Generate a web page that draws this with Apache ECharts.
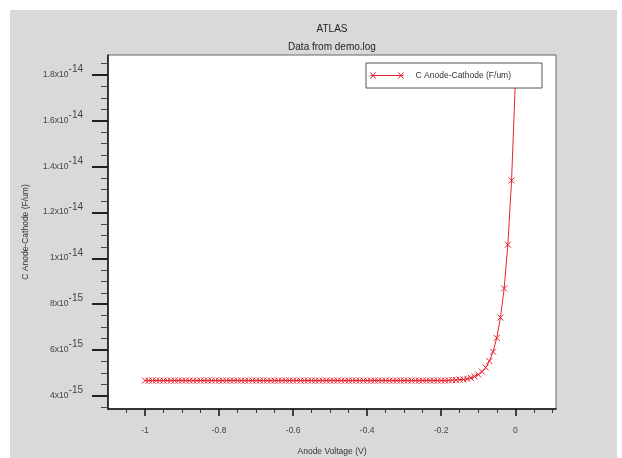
<!DOCTYPE html>
<html>
<head>
<meta charset="utf-8">
<title>ATLAS - Data from demo.log</title>
<script src="https://cdn.jsdelivr.net/npm/echarts@6.0.0/dist/echarts.min.js"></script>
<style>
html, body { margin: 0; padding: 0; background: #fff; }
#wrap { width: 622px; height: 458px; position: relative; overflow: hidden; }
#main { position: absolute; left: 10px; top: 10px; width: 607px; height: 448px; }
</style>
</head>
<body>
<div id="wrap"><div id="main"></div></div>
<script>
// anode voltage (V)
var voltage = [
  -1.00, -0.99, -0.98, -0.97, -0.96, -0.95, -0.94, -0.93, -0.92, -0.91,
  -0.90, -0.89, -0.88, -0.87, -0.86, -0.85, -0.84, -0.83, -0.82, -0.81,
  -0.80, -0.79, -0.78, -0.77, -0.76, -0.75, -0.74, -0.73, -0.72, -0.71,
  -0.70, -0.69, -0.68, -0.67, -0.66, -0.65, -0.64, -0.63, -0.62, -0.61,
  -0.60, -0.59, -0.58, -0.57, -0.56, -0.55, -0.54, -0.53, -0.52, -0.51,
  -0.50, -0.49, -0.48, -0.47, -0.46, -0.45, -0.44, -0.43, -0.42, -0.41,
  -0.40, -0.39, -0.38, -0.37, -0.36, -0.35, -0.34, -0.33, -0.32, -0.31,
  -0.30, -0.29, -0.28, -0.27, -0.26, -0.25, -0.24, -0.23, -0.22, -0.21,
  -0.20, -0.19, -0.18, -0.17, -0.16, -0.15, -0.14, -0.13, -0.12, -0.11,
  -0.10, -0.09, -0.08, -0.07, -0.06, -0.05, -0.04, -0.03, -0.02, -0.01,
  0.00
];
// C Anode-Cathode, in units of 1e-15 F/um
var capacitance = [
  4.67, 4.67, 4.67, 4.67, 4.67, 4.67, 4.67, 4.67, 4.67, 4.67,
  4.67, 4.67, 4.67, 4.67, 4.67, 4.67, 4.67, 4.67, 4.67, 4.67,
  4.67, 4.67, 4.67, 4.67, 4.67, 4.67, 4.67, 4.67, 4.67, 4.67,
  4.67, 4.67, 4.67, 4.67, 4.67, 4.67, 4.67, 4.67, 4.67, 4.67,
  4.67, 4.67, 4.67, 4.67, 4.67, 4.67, 4.67, 4.67, 4.67, 4.67,
  4.67, 4.67, 4.67, 4.67, 4.67, 4.67, 4.67, 4.67, 4.67, 4.67,
  4.67, 4.67, 4.67, 4.67, 4.67, 4.67, 4.67, 4.67, 4.67, 4.67,
  4.67, 4.67, 4.67, 4.67, 4.67, 4.67, 4.67, 4.67, 4.67, 4.67,
  4.67, 4.67, 4.68, 4.69, 4.69, 4.71, 4.72, 4.75, 4.79, 4.85,
  4.93, 5.06, 5.24, 5.52, 5.93, 6.53, 7.42, 8.69, 10.6, 13.4,
  17.6
];
var xMajorTicks = [-1, -0.8, -0.6, -0.4, -0.2, 0];
var xMinorTicks = [-1.05, -0.95, -0.9, -0.85, -0.75, -0.7, -0.65, -0.55, -0.5, -0.45,
  -0.35, -0.3, -0.25, -0.15, -0.1, -0.05, 0.05, 0.1];
var yMajorTicks = [4, 6, 8, 10, 12, 14, 16, 18];
var yMinorTicks = [3.5, 4.5, 5, 5.5, 6.5, 7, 7.5, 8.5, 9, 9.5, 10.5, 11, 11.5, 12.5, 13, 13.5,
  14.5, 15, 15.5, 16.5, 17, 17.5, 18.5];

var UNIT = 1e-15;
var RED = '#e8222e';
var FONT = 'Liberation Sans';

// 1.8e-14 -> 1.8x10 with superscript -14
function sciLabel(v){
    var real = v * UNIT;
    var exp = Math.floor(Math.log10(real) + 1e-9);
    var mant = +(real / Math.pow(10, exp)).toFixed(2);
    return '{m|' + mant + 'x10}{e|' + exp + '}';
}

var points = voltage.map(function(x, i){ return [x, capacitance[i]]; });

var myChart = echarts.init(document.getElementById('main'));
var option = {
    backgroundColor: '#d9d9d9',
    animation: false,
    textStyle: { fontFamily: FONT },
    graphic: [
        { type: 'text', x: 322, y: 19, style: { text: 'ATLAS', font: '10px "Liberation Sans"', fill: '#222', align: 'center', verticalAlign: 'middle' } },
        { type: 'text', x: 322, y: 37, style: { text: 'Data from demo.log', font: '10px "Liberation Sans"', fill: '#222', align: 'center', verticalAlign: 'middle' } }
    ],
    grid: {
        left: 98, top: 45, width: 448, height: 354,
        outerBoundsMode: 'none',
        show: true, backgroundColor: '#fff', borderColor: '#666', borderWidth: 1
    },
    legend: {
        left: 356, top: 53,
        backgroundColor: '#fff', borderColor: '#555', borderWidth: 1,
        padding: [8, 31, 8, 4],
        itemWidth: 33, itemHeight: 7,
        icon: 'path://M0,4L32,4M0,1L5,7M0,7L5,1M27,1L32,7M27,7L32,1',
        itemStyle: { color: 'transparent', borderColor: RED, borderWidth: 1 },
        formatter: function(name){ return '   ' + name; },
        textStyle: { fontSize: 8.5, color: '#333', fontFamily: FONT },
        data: ['C Anode-Cathode (F/um)']
    },
    xAxis: [{
        type: 'value', min: -1.1, max: 0.11, position: 'bottom',
        name: 'Anode Voltage (V)', nameLocation: 'middle', nameGap: 38,
        nameTextStyle: { fontSize: 8.5, color: '#333', fontFamily: FONT },
        axisLine: { onZero: false, lineStyle: { color: '#111', width: 1.5 } },
        axisTick: { customValues: xMajorTicks, length: 7, lineStyle: { color: '#111', width: 1.5 } },
        axisLabel: { customValues: xMajorTicks, margin: 17, fontSize: 8.5, color: '#444',
            formatter: function(v){ return String(+v.toFixed(2)); } },
        splitLine: { show: false }
    }, {
        type: 'value', min: -1.1, max: 0.11, position: 'bottom',
        axisLine: { show: false, onZero: false },
        axisTick: { customValues: xMinorTicks, length: 4, lineStyle: { color: '#333', width: 1 } },
        axisLabel: { show: false },
        splitLine: { show: false }
    }],
    yAxis: [{
        type: 'value', min: 3.43, max: 18.87, position: 'left',
        name: 'C Anode-Cathode (F/um)', nameLocation: 'middle', nameGap: 78, nameRotate: 90,
        nameTextStyle: { fontSize: 8.5, color: '#333', fontFamily: FONT },
        axisLine: { show: true, onZero: false, lineStyle: { color: '#111', width: 1.5 } },
        axisTick: { customValues: yMajorTicks, length: 16, lineStyle: { color: '#222', width: 2 } },
        axisLabel: {
            customValues: yMajorTicks, margin: 25, color: '#444',
            formatter: sciLabel,
            rich: {
                m: { fontSize: 8.5, color: '#444', lineHeight: 10, padding: [5, 0, 6, 0], fontFamily: FONT },
                e: { fontSize: 10, color: '#444', lineHeight: 10, padding: [0, 0, 11, 0], fontFamily: FONT }
            }
        },
        splitLine: { show: false }
    }, {
        type: 'value', min: 3.43, max: 18.87, position: 'left',
        axisLine: { show: false, onZero: false },
        axisTick: { show: true, customValues: yMinorTicks, length: 7, lineStyle: { color: '#444', width: 1 } },
        axisLabel: { show: false },
        splitLine: { show: false }
    }],
    series: [{
        name: 'C Anode-Cathode (F/um)',
        type: 'line',
        xAxisIndex: 0, yAxisIndex: 0,
        data: points,
        symbol: 'path://M0,0L8,8M8,0L0,8',
        symbolSize: 6,
        showAllSymbol: true,
        clip: true,
        lineStyle: { color: RED, width: 1 },
        itemStyle: { color: 'transparent', borderColor: RED, borderWidth: 1 }
    }]
};
myChart.setOption(option);
</script>
</body>
</html>
